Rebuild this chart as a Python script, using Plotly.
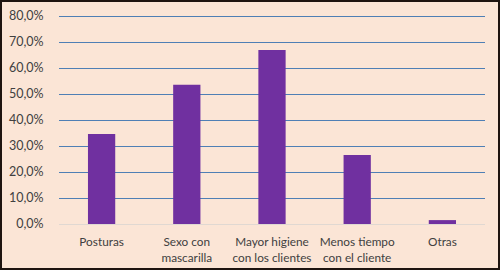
import plotly.graph_objects as go

categories = ["Posturas", "Sexo con<br>mascarilla", "Mayor higiene<br>con los clientes",
              "Menos tiempo<br>con el cliente", "Otras"]
values = [34.6, 53.6, 66.9, 26.5, 1.5]
tick_vals = [0, 10, 20, 30, 40, 50, 60, 70, 80]
tick_text = ["0,0%", "10,0%", "20,0%", "30,0%", "40,0%", "50,0%", "60,0%", "70,0%", "80,0%"]

W, H = 500, 270
ml, mr, mt, mb = 59, 15, 14, 46
pw, ph = W - ml - mr, H - mt - mb
y_top = 80 * ph / 208.0

fig = go.Figure(go.Bar(x=categories, y=values, marker_color="#7030A0", marker_line_width=0))

fig.update_layout(
    width=W, height=H,
    margin=dict(l=ml, r=mr, t=mt, b=mb, autoexpand=False),
    paper_bgcolor="#FBE5D6", plot_bgcolor="#FBE5D6",
    bargap=0.68, showlegend=False,
    font=dict(family="Lato", size=12.5, color="#404040"),
)
fig.update_yaxes(range=[0, y_top], tickvals=tick_vals, ticktext=tick_text, automargin=False,
                 showgrid=True, gridcolor="#4F7FB5", gridwidth=1,
                 zeroline=True, zerolinecolor="#E0D8D2", zerolinewidth=1,
                 ticks="outside", ticklen=12, tickcolor="rgba(0,0,0,0)", showline=False,
                 tickfont=dict(size=12.5))
fig.update_xaxes(showgrid=False, ticks="outside", ticklen=7, tickcolor="rgba(0,0,0,0)",
                 showline=False, automargin=False, tickfont=dict(size=11.8))

fig.add_shape(type="rect", xref="paper", yref="paper",
              x0=-(ml - 1) / pw, x1=1 + (mr - 1) / pw,
              y0=-(mb - 1) / ph, y1=1 + (mt - 1) / ph,
              line=dict(color="#1E1410", width=2), fillcolor="rgba(0,0,0,0)", layer="above")

fig.write_html("out.html")
